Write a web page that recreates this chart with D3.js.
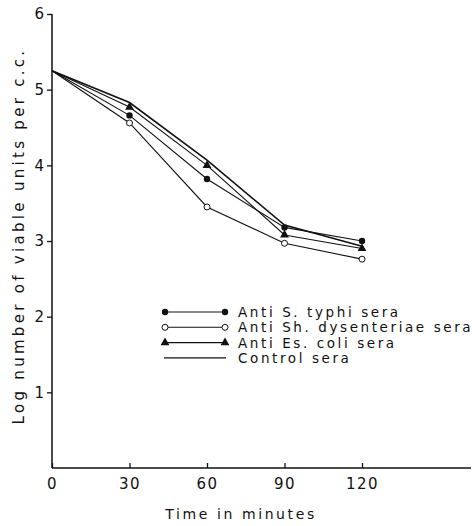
<!DOCTYPE html>
<html lang="en">
	<head>
		<meta charset="utf-8">
		<title>Viable units</title>
		<script type="text/javascript" src="https://d3js.org/d3.v7.min.js"></script>
		<style>
			body { margin: 0; background: #fff; }
			text { font-family: "DejaVu Sans", sans-serif; fill: #111; }
		</style>
	</head>
	<body>
		<svg id="chart"></svg>
		<script>
			// data
			var times = [0, 30, 60, 90, 120];
			var typhi = [5.25, 4.66, 3.82, 3.18, 3.0];
			var dysenteriae = [5.25, 4.56, 3.45, 2.97, 2.76];
			var coli = [5.25, 4.77, 4.0, 3.08, 2.9];
			var control = [5.25, 4.83, 4.07, 3.21, 2.93];
			var seriesNames = ["Anti S. typhi sera", "Anti Sh. dysenteriae sera", "Anti Es. coli sera", "Control sera"];
			var xTicks = [0, 30, 60, 90, 120];
			var yTicks = [1, 2, 3, 4, 5, 6];

			var width = 472, height = 526;
			var svg = d3.select("#chart").attr("width", width).attr("height", height);

			var x = d3.scaleLinear().domain([0, 120]).range([52, 362]);
			var y = d3.scaleLinear().domain([0, 6]).range([468, 14]);

			var series = [
				{name: seriesNames[0], vals: typhi, mark: "filled"},
				{name: seriesNames[1], vals: dysenteriae, mark: "open"},
				{name: seriesNames[2], vals: coli, mark: "tri"},
				{name: seriesNames[3], vals: control, mark: "none"}
			];

			// axes
			var yAxis = d3.axisLeft(y).tickValues(yTicks).tickSize(5).tickFormat(d3.format("d"));
			var gy = svg.append("g").attr("transform", "translate(" + x(0) + ",0)").call(yAxis);
			gy.select(".domain").remove();
			gy.selectAll("line").attr("stroke", "#111").attr("stroke-width", 1.3);
			gy.selectAll("text").attr("font-size", 15).attr("x", -8).style("font-family", "DejaVu Sans");

			var xAxis = d3.axisBottom(x).tickValues(xTicks).tickSizeInner(-5).tickSizeOuter(0).tickPadding(10);
			var gx = svg.append("g").attr("transform", "translate(0," + y(0) + ")").call(xAxis);
			gx.select(".domain").remove();
			gx.selectAll("line").attr("stroke", "#111").attr("stroke-width", 1.3);
			gx.selectAll("text").attr("font-size", 15).attr("letter-spacing", 1.5).style("font-family", "DejaVu Sans");

			svg.append("line")
				.attr("x1", x(0)).attr("x2", width - 1)
				.attr("y1", y(0)).attr("y2", y(0))
				.attr("stroke", "#111").attr("stroke-width", 1.5);
			svg.append("line")
				.attr("x1", x(0)).attr("x2", x(0))
				.attr("y1", y(0)).attr("y2", y(6))
				.attr("stroke", "#111").attr("stroke-width", 1.5);

			// axis titles
			svg.append("text")
				.attr("x", 241).attr("y", 519)
				.attr("text-anchor", "middle")
				.attr("font-size", 14)
				.attr("letter-spacing", 2.6)
				.text("Time in minutes");
			svg.append("text")
				.attr("transform", "translate(24,236) rotate(-90)")
				.attr("text-anchor", "middle")
				.attr("font-size", 15)
				.attr("letter-spacing", 3.3)
				.text("Log number of viable units per c.c.");

			// lines
			var line = d3.line().x((d, i) => x(times[i])).y(d => y(d));
			svg.selectAll("path.series")
				.data(series)
				.enter()
				.append("path")
				.attr("class", "series")
				.attr("d", d => line(d.vals))
				.attr("fill", "none")
				.attr("stroke", "#111")
				.attr("stroke-width", d => d.mark == "none" ? 1.6 : 1.1);

			var triSym = d3.symbol().type(d3.symbolTriangle).size(34);
			function drawMark(g, mark, px, py) {
				if (mark == "filled") {
					g.append("circle").attr("cx", px).attr("cy", py).attr("r", 3.2).attr("fill", "#111");
				} else if (mark == "open") {
					g.append("circle").attr("cx", px).attr("cy", py).attr("r", 3).attr("fill", "#fff")
						.attr("stroke", "#111").attr("stroke-width", 1);
				} else if (mark == "tri") {
					g.append("path").attr("d", triSym()).attr("transform", "translate(" + px + "," + py + ")").attr("fill", "#111");
				}
			}

			var marks = svg.append("g");
			series.forEach(function(s) {
				s.vals.forEach(function(v, i) {
					if (i > 0) drawMark(marks, s.mark, x(times[i]), y(v));
				});
			});

			// legend
			var lg = svg.append("g");
			series.forEach(function(s, i) {
				var ly = 312 + i * 15.3;
				lg.append("line")
					.attr("x1", 164).attr("x2", 226)
					.attr("y1", ly).attr("y2", ly)
					.attr("stroke", "#111").attr("stroke-width", 1.1);
				drawMark(lg, s.mark, 165, ly);
				drawMark(lg, s.mark, 225, ly);
				lg.append("text")
					.attr("x", 238).attr("y", ly + 5)
					.attr("font-size", 13.5)
					.attr("letter-spacing", 2.6)
					.text(s.name);
			});
		</script>
	</body>
</html>
